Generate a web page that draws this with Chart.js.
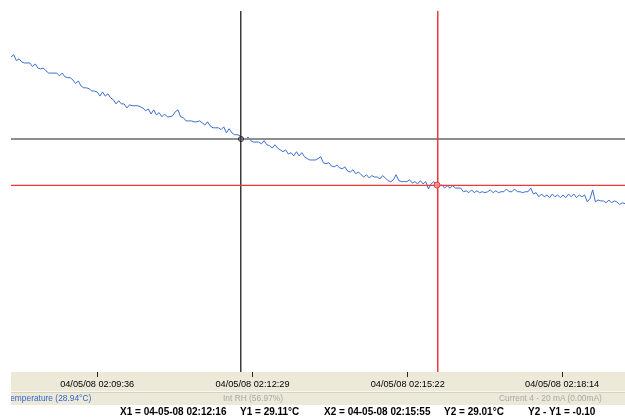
<!DOCTYPE html>
<html>
<head>
<meta charset="utf-8">
<script src="https://cdn.jsdelivr.net/npm/chart.js@4"></script>
<style>
  html, body { margin: 0; padding: 0; background: #fff; }
  #wrap { position: relative; width: 625px; height: 418px; overflow: hidden; font-family: Arial, 'Liberation Sans', sans-serif; }
  #chart { position: absolute; left: 0; top: 0; }
  .legendRow { position: absolute; left: 11px; top: 392px; width: 614px; height: 13px; overflow: hidden; font-size: 8.4px; line-height: 13px; }
  .legendRow span, .footer span { position: absolute; white-space: pre; }
  .footer { position: absolute; left: 0; top: 406px; width: 625px; height: 12px; font-size: 10px; font-weight: bold; line-height: 12px; color: #000; }
</style>
</head>
<body>
<div id="wrap">
  <canvas id="chart" width="625" height="418"></canvas>
  <div class="legendRow" id="legendRow"></div>
  <div class="footer" id="footer"></div>
</div>
<script>
// logger samples: 02:08:00 onward, one every 3 s (seconds counted from 02:00:00)
const sampleStartSec = 480;
const sampleStepSec = 3;
const temperature = [
  29.288, 29.293, 29.280, 29.284, 29.277, 29.275, 29.275, 29.275, 29.267, 29.273,
  29.264, 29.262, 29.264, 29.258, 29.253, 29.253, 29.253, 29.253, 29.247, 29.253,
  29.245, 29.243, 29.243, 29.238, 29.230, 29.236, 29.225, 29.221, 29.221, 29.219,
  29.214, 29.214, 29.212, 29.203, 29.212, 29.203, 29.208, 29.199, 29.195, 29.186,
  29.193, 29.186, 29.186, 29.177, 29.184, 29.182, 29.182, 29.182, 29.180, 29.177,
  29.171, 29.175, 29.164, 29.173, 29.162, 29.167, 29.158, 29.164, 29.158, 29.158,
  29.160, 29.169, 29.173, 29.158, 29.156, 29.149, 29.149, 29.149, 29.147, 29.147,
  29.149, 29.145, 29.140, 29.147, 29.138, 29.134, 29.134, 29.134, 29.130, 29.136,
  29.123, 29.132, 29.123, 29.119, 29.119, 29.117, 29.112, 29.108, 29.114, 29.106,
  29.103, 29.103, 29.103, 29.099, 29.106, 29.097, 29.095, 29.090, 29.097, 29.090,
  29.086, 29.082, 29.086, 29.077, 29.080, 29.073, 29.082, 29.073, 29.080, 29.071,
  29.067, 29.064, 29.064, 29.064, 29.067, 29.071, 29.058, 29.056, 29.058, 29.051,
  29.049, 29.053, 29.047, 29.045, 29.049, 29.040, 29.038, 29.043, 29.034, 29.038,
  29.032, 29.027, 29.032, 29.025, 29.030, 29.027, 29.027, 29.023, 29.030, 29.025,
  29.019, 29.017, 29.021, 29.032, 29.019, 29.017, 29.017, 29.017, 29.021, 29.014,
  29.017, 29.012, 29.019, 29.012, 29.017, 29.001, 29.012, 29.017, 29.010, 29.006,
  29.010, 29.003, 29.008, 29.003, 29.008, 29.003, 29.003, 29.003, 28.995, 28.997,
  28.993, 28.999, 28.993, 28.997, 28.993, 28.995, 28.993, 28.995, 28.999, 28.993,
  28.997, 28.993, 28.995, 28.995, 29.001, 28.995, 28.995, 29.001, 28.995, 28.995,
  28.993, 28.995, 28.995, 29.003, 28.990, 28.993, 28.984, 28.990, 28.984, 28.988,
  28.982, 28.990, 28.984, 28.988, 28.982, 28.988, 28.982, 28.990, 28.984, 28.990,
  28.982, 28.988, 28.984, 28.988, 28.973, 28.980, 28.999, 28.973, 28.977, 28.975,
  28.975, 28.971, 28.977, 28.971, 28.975, 28.973, 28.967, 28.971, 28.969
];

const tickSecs = [576, 749, 922, 1094];
const tickLabels = ['04/05/08 02:09:36', '04/05/08 02:12:29', '04/05/08 02:15:22', '04/05/08 02:18:14'];

// cursors: X1/Y1 and X2/Y2
const cursorX = [736, 955];
const cursorY = [29.11, 29.01];

const legendItems = ['Temperature (28.94°C)', 'Int RH (56.97%)', 'Current 4 - 20 mA (0.00mA)'];
const footerItems = ['X1 = 04-05-08 02:12:16', 'Y1 = 29.11°C', 'X2 = 04-05-08 02:15:55', 'Y2 = 29.01°C', 'Y2 - Y1 = -0.10'];

const points = temperature.map((t, i) => ({ x: sampleStartSec + i * sampleStepSec, y: t }));

const panelPlugin = {
  id: 'panel',
  beforeDraw(chart) {
    const { ctx, chartArea } = chart;
    ctx.save();
    ctx.fillStyle = '#ffffff';
    ctx.fillRect(0, 0, chart.width, chart.height);
    ctx.fillStyle = '#ece9d8';
    ctx.fillRect(chartArea.left, chartArea.bottom, chart.width - chartArea.left, 33);
    ctx.fillStyle = '#f7f6f1';
    ctx.fillRect(chartArea.left, chartArea.bottom + 19, chart.width - chartArea.left, 1);
    ctx.fillStyle = '#d6d2c2';
    ctx.fillRect(chartArea.left, chartArea.bottom + 20, chart.width - chartArea.left, 1);
    ctx.restore();
  },
};

const cursorPlugin = {
  id: 'cursors',
  afterDatasetsDraw(chart) {
    const { ctx, chartArea, scales } = chart;
    const x1 = Math.round(scales.x.getPixelForValue(cursorX[0]));
    const x2 = Math.round(scales.x.getPixelForValue(cursorX[1]));
    const y1 = Math.round(scales.y.getPixelForValue(cursorY[0]));
    const y2 = Math.round(scales.y.getPixelForValue(cursorY[1]));
    ctx.save();
    // cursor 1
    ctx.fillStyle = '#8e8e8e';
    ctx.fillRect(chartArea.left, y1 - 1, chartArea.right - chartArea.left, 2);
    ctx.fillStyle = '#3a3a3a';
    ctx.fillRect(x1 - 1, chartArea.top, 1.5, chartArea.bottom - chartArea.top);
    // cursor 2
    ctx.fillStyle = '#ec3b36';
    ctx.fillRect(chartArea.left, y2 - 0.25, chartArea.right - chartArea.left, 1.25);
    ctx.fillRect(x2, chartArea.top, 1.5, chartArea.bottom - chartArea.top);
    // markers
    ctx.lineWidth = 1;
    ctx.strokeStyle = '#222';
    ctx.beginPath();
    ctx.arc(x1, y1, 2.5, 0, Math.PI * 2);
    ctx.stroke();
    ctx.strokeStyle = '#e8413c';
    ctx.fillStyle = 'rgba(240,150,150,0.8)';
    ctx.beginPath();
    ctx.arc(x2, y2, 3, 0, Math.PI * 2);
    ctx.fill();
    ctx.stroke();
    ctx.restore();
  },
};

new Chart(document.getElementById('chart'), {
  type: 'line',
  data: {
    datasets: [{
      label: legendItems[0],
      data: points,
      borderColor: '#3b6fd0',
      borderWidth: 1,
      pointRadius: 0,
      tension: 0,
      fill: false,
    }],
  },
  options: {
    responsive: false,
    animation: false,
    devicePixelRatio: 1,
    layout: { padding: { left: 11, top: 11, right: 0, bottom: 26 } },
    plugins: { legend: { display: false }, tooltip: { enabled: false } },
    scales: {
      x: {
        type: 'linear',
        min: 480,
        max: 1164,
        afterFit: (s) => { s.height = 20; },
        afterBuildTicks: (s) => { s.ticks = tickSecs.map((v) => ({ value: v })); },
        border: { display: false },
        grid: { drawOnChartArea: false, drawTicks: true, tickLength: 5, color: '#222', lineWidth: 1 },
        ticks: {
          autoSkip: false,
          maxRotation: 0,
          padding: 2,
          color: '#000',
          font: { family: "Arial, 'Liberation Sans', sans-serif", size: 9.2 },
          callback: (v) => tickLabels[tickSecs.indexOf(v)] || '',
        },
      },
      y: { display: false, min: 28.603, max: 29.388 },
    },
  },
  plugins: [panelPlugin, cursorPlugin],
});

const legendRow = document.getElementById('legendRow');
[['#3366cc', -5], ['#a8a8a8', 212], ['#a8a8a8', 488]].forEach(([color, left], i) => {
  const s = document.createElement('span');
  s.textContent = legendItems[i];
  s.style.color = color;
  s.style.left = left + 'px';
  legendRow.appendChild(s);
});

const footer = document.getElementById('footer');
[120, 240, 324, 444, 528].forEach((left, i) => {
  const s = document.createElement('span');
  s.textContent = footerItems[i];
  s.style.left = left + 'px';
  footer.appendChild(s);
});
</script>
</body>
</html>
